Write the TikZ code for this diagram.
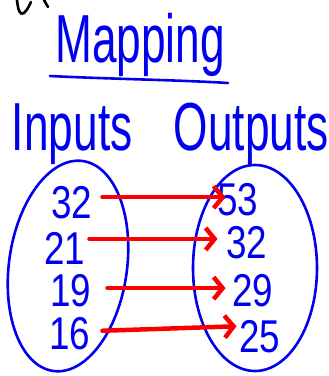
\documentclass[tikz,border=0pt]{standalone}
\usepackage{fontspec}
\setmainfont{Liberation Sans}
\usetikzlibrary{arrows.meta, positioning, calc}
\definecolor{cInkBlue}{RGB}{0,0,238}
\definecolor{cArrowRed}{RGB}{250,0,0}

\begin{document}
\begin{tikzpicture}[x=1pt, y=-1pt, every node/.style={text=cInkBlue, inner sep=0pt, outer sep=0pt},
    hand/.style={font=\fontsize{68}{68}\selectfont, xscale=0.65},
    num/.style={font=\fontsize{46}{46}\selectfont, xscale=0.8},
    ink/.style={cInkBlue, line width=2.6pt, line cap=round},
    maparrow/.style={cArrowRed, line width=4.5pt, line cap=round, line join=round,
        -{Straight Barb[length=9pt, width=22pt]}}]
    \useasboundingbox (0,0) rectangle (329,376);

    \draw[black, line width=2.6pt, line cap=round] (17,0) .. controls (18,10) and (20,16) .. (24,13) .. controls (27,10) .. (31,2);
    \draw[black, line width=2.6pt, line cap=round] (44,0) -- (48,7);

    \node[hand, anchor=base] (title) at (140,62) {Mapping};
    \draw[ink] (50,76) .. controls (110,79) and (180,80) .. (228,83);

    \node[hand, anchor=base west] (inLabel) at (12,150) {Inputs};
    \node[hand, anchor=base west] (outLabel) at (174,150) {Outputs};

    \draw[ink, rotate around={-8:(68,266)}] (68,266) ellipse [x radius=59, y radius=106];
    \draw[ink] (255,268) ellipse [x radius=62, y radius=103];

    \node[num, anchor=base] (in1) at (72,218) {32};
    \node[num, anchor=base] (in2) at (65,264) {21};
    \node[num, anchor=base] (in3) at (71,306) {19};
    \node[num, anchor=base] (in4) at (70,349) {16};

    \node[num, anchor=base] (out1) at (238,215) {53};
    \node[num, anchor=base] (out2) at (247,258) {32};
    \node[num, anchor=base] (out3) at (253,306) {29};
    \node[num, anchor=base] (out4) at (260,352) {25};

    \coordinate (a1) at ([yshift=5pt]in1.east);
    \coordinate (a2) at ([yshift=9pt]in2.east);
    \coordinate (a3) at ([yshift=2pt]in3.east);
    \coordinate (a4) at ([yshift=2pt]in4.east);

    \draw[maparrow, shorten <=10pt, shorten >=-8pt] (a1) -- (a1 -| out1.west);
    \draw[maparrow, shorten <=4pt, shorten >=9pt] (a2) -- (a2 -| out2.west);
    \draw[maparrow, shorten <=16pt, shorten >=7pt] (a3) -- (a3 -| out3.west);
    \draw[maparrow, shorten <=12pt, shorten >=3pt] (a4) -- ([yshift=5pt]a4 -| out4.west);
\end{tikzpicture}
\end{document}
